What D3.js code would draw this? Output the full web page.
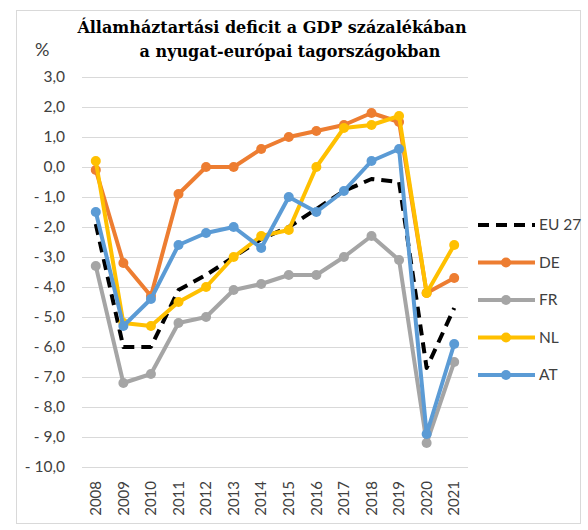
<!DOCTYPE html>
<html>
<head>
<meta charset="utf-8">
<script src="https://cdn.jsdelivr.net/npm/d3@7"></script>
<style>
  body { margin: 0; background: #fff; }
  .tick text { font-family: Lato, "Open Sans", sans-serif; fill: #404040; }
</style>
</head>
<body>
<div id="chart"></div>
<script>
var years = [2008, 2009, 2010, 2011, 2012, 2013, 2014, 2015, 2016, 2017, 2018, 2019, 2020, 2021];
var yTicks = [3, 2, 1, 0, -1, -2, -3, -4, -5, -6, -7, -8, -9, -10];

var eu27 = [-1.9, -6.0, -6.0, -4.1, -3.6, -3.0, -2.4, -2.0, -1.4, -0.8, -0.4, -0.5, -6.7, -4.7];
var de   = [-0.1, -3.2, -4.3, -0.9, 0.0, 0.0, 0.6, 1.0, 1.2, 1.4, 1.8, 1.5, -4.2, -3.7];
var fr   = [-3.3, -7.2, -6.9, -5.2, -5.0, -4.1, -3.9, -3.6, -3.6, -3.0, -2.3, -3.1, -9.2, -6.5];
var nl   = [0.2, -5.2, -5.3, -4.5, -4.0, -3.0, -2.3, -2.1, 0.0, 1.3, 1.4, 1.7, -4.2, -2.6];
var at   = [-1.5, -5.3, -4.4, -2.6, -2.2, -2.0, -2.7, -1.0, -1.5, -0.8, 0.2, 0.6, -8.9, -5.9];

var series = [
  {key: "EU 27", values: eu27, color: "#000000", dash: true},
  {key: "DE", values: de, color: "#ED7D31"},
  {key: "FR", values: fr, color: "#A5A5A5"},
  {key: "NL", values: nl, color: "#FFC000"},
  {key: "AT", values: at, color: "#5B9BD5"}
];

var width = 588, height = 530;
var plot = {left: 82, right: 468, top: 77, bottom: 467};

var svg = d3.select("#chart").append("svg")
    .attr("width", width)
    .attr("height", height);

// chart frame
svg.append("rect")
    .attr("x", 16.5).attr("y", 10.5)
    .attr("width", 564).attr("height", 513)
    .attr("fill", "#fff")
    .attr("stroke", "#d9d9d9");

var x = d3.scaleBand().domain(years).range([plot.left, plot.right]);
var y = d3.scaleLinear().domain([-10, 3]).range([plot.bottom, plot.top]);

var fmt = d => (d < 0 ? "- " : "") + d3.format(".1f")(Math.abs(d)).replace(".", ",");

// y axis with gridlines
var yAxis = d3.axisLeft(y)
    .tickValues(yTicks)
    .tickSize(-(plot.right - plot.left))
    .tickPadding(17)
    .tickFormat(fmt);

svg.append("g")
    .attr("class", "axis yAxis")
    .attr("transform", `translate(${plot.left}, 0)`)
    .call(yAxis)
    .call(g => g.select(".domain").remove())
    .call(g => g.selectAll(".tick line").attr("stroke", "#d9d9d9"))
    .call(g => g.selectAll(".tick text").attr("font-size", 15.5));

// x axis labels, rotated
var xAxis = d3.axisBottom(x).tickSize(0).tickPadding(0);

svg.append("g")
    .attr("class", "axis xAxis")
    .attr("transform", `translate(0, ${plot.bottom})`)
    .call(xAxis)
    .call(g => g.select(".domain").remove())
    .call(g => g.selectAll(".tick text")
        .attr("font-size", 15)
        .attr("transform", "rotate(-90)")
        .attr("x", -14)
        .attr("y", 0)
        .attr("dy", "0.35em")
        .style("text-anchor", "end"));

var line = d3.line()
    .x((d, i) => x(years[i]) + x.bandwidth() / 2)
    .y(d => y(d));

series.forEach(function(s) {
    svg.append("path")
        .datum(s.values)
        .attr("class", "line")
        .attr("fill", "none")
        .attr("stroke", s.color)
        .attr("stroke-width", 4)
        .attr("stroke-linejoin", "round")
        .attr("stroke-dasharray", s.dash ? "11,7" : null)
        .attr("d", line);

    if (!s.dash) {
        svg.append("g").selectAll("circle")
            .data(s.values)
            .enter()
            .append("circle")
            .attr("cx", (d, i) => x(years[i]) + x.bandwidth() / 2)
            .attr("cy", d => y(d))
            .attr("r", 5)
            .attr("fill", s.color);
    }
});

// legend
var legend = svg.append("g").attr("class", "legend");
series.forEach(function(s, i) {
    var ly = 225 + i * 37.5;
    legend.append("line")
        .attr("x1", 478).attr("x2", 535)
        .attr("y1", ly).attr("y2", ly)
        .attr("stroke", s.color)
        .attr("stroke-width", 4)
        .attr("stroke-dasharray", s.dash ? "11,7" : null);
    if (!s.dash) {
        legend.append("circle")
            .attr("cx", 506).attr("cy", ly).attr("r", 5)
            .attr("fill", s.color);
    }
    legend.append("text")
        .attr("x", 539).attr("y", ly)
        .attr("dy", "0.35em")
        .attr("font-family", "Lato, 'Open Sans', sans-serif")
        .attr("font-size", 15.5)
        .attr("fill", "#404040")
        .text(s.key);
});

// title
var title = svg.append("text")
    .attr("font-family", "'DejaVu Serif', serif")
    .attr("font-weight", "bold")
    .attr("font-size", 16)
    .attr("fill", "#000")
    .attr("text-anchor", "middle");
title.append("tspan").attr("x", 272).attr("y", 33).text("Államháztartási deficit a GDP százalékában");
title.append("tspan").attr("x", 290).attr("y", 57).text("a nyugat-európai tagországokban");

svg.append("text")
    .attr("x", 35).attr("y", 56)
    .attr("font-family", "Lato, 'Open Sans', sans-serif")
    .attr("font-size", 18)
    .attr("fill", "#404040")
    .text("%");
</script>
</body>
</html>
